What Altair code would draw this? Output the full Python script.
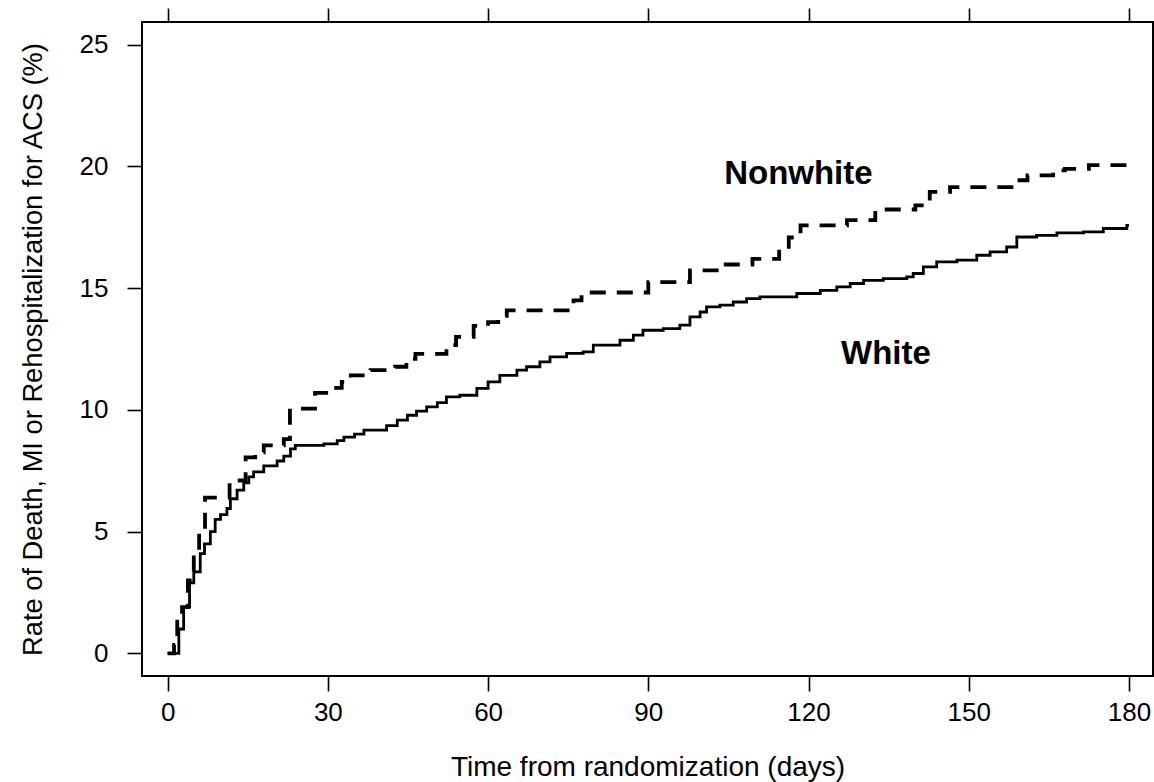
import altair as alt
import pandas as pd

# ---- data ----
white_day = [0, 2.1, 3.0, 4.1, 4.9, 6.1, 6.9, 8.0, 8.9, 9.9, 11.1, 11.75, 13.0, 14.25,
             15.2, 16.1, 18.0, 20.5, 21.75, 23.0, 23.9, 29.25, 31.75, 33, 35, 36.75,
             41, 43, 44.9, 46.6, 48.5, 50.5, 52.2, 54.7, 57.9, 60, 62.2, 65.4, 67.2, 69.7,
             71.6, 74.7, 77.8, 79.7, 84.7, 87.2, 89, 92.8, 95.9, 97.8, 99.7, 100.9,
             103.4, 105.9, 108.4, 110.9, 117.8, 122.2, 125.3, 127.8, 130.3, 134,
             138.4, 139.6, 141.5, 144, 147.8, 151.5, 154, 157.1, 159, 162.7, 166.5,
             171.5, 175.2, 179.6, 180]
white_rate = [0, 1.0, 1.9, 2.9, 3.35, 4.1, 4.5, 5.0, 5.5, 5.7, 5.95, 6.35, 6.7, 7.0,
              7.25, 7.45, 7.7, 7.9, 8.1, 8.4, 8.54, 8.6, 8.74, 8.88, 9.0, 9.17,
              9.35, 9.58, 9.78, 9.95, 10.12, 10.3, 10.53, 10.6, 10.88, 11.15, 11.42, 11.63, 11.77, 11.97,
              12.18, 12.32, 12.38, 12.66, 12.86, 13.07, 13.27, 13.34, 13.48, 13.82, 14.02, 14.23,
              14.3, 14.43, 14.57, 14.64, 14.78, 14.91, 15.05, 15.19, 15.32, 15.39,
              15.46, 15.6, 15.87, 16.08, 16.15, 16.35, 16.49, 16.69, 17.1, 17.17, 17.27,
              17.31, 17.45, 17.58, 17.58]

nonwhite_day = [0, 1.2, 1.8, 2.7, 3.8, 4.9, 5.9, 7.0, 11.6, 14.6, 16.4, 18.0, 21.75,
                22.9, 27.6, 30.5, 32.6, 34.3, 38.0, 42.6, 44.7, 46.4, 52.2, 54.0, 57.3, 60,
                61.9, 63.5, 76, 77.5, 90, 97.8, 103.5, 109.5, 114.5, 116.3, 118.5, 127.2,
                132.5, 140, 142.7, 146.5, 158, 161, 165.8, 168, 172.5, 180]
nonwhite_rate = [0, 0.35, 1.3, 1.9, 3.0, 4.2, 5.1, 6.4, 7.1, 8.05, 8.26, 8.54, 8.8,
                 10.05, 10.7, 10.9, 11.15, 11.42, 11.63, 11.77, 12.1, 12.3, 12.66, 13.0, 13.45, 13.6,
                 13.86, 14.09, 14.5, 14.82, 15.25, 15.73, 15.97, 16.2, 16.7, 17.08, 17.58, 17.79,
                 18.23, 18.4, 18.95, 19.15, 19.43, 19.63, 19.84, 19.9, 20.05, 20.05]

x_ticks = [0, 30, 60, 90, 120, 150, 180]
y_ticks = [0, 5, 10, 15, 20, 25]

label_text = ["Nonwhite", "White"]
label_day = [118.1, 134.5]
label_rate = [19.29, 11.9]

FONT = "Liberation Sans, Arial, Helvetica, sans-serif"

white_df = pd.DataFrame({"day": white_day, "rate": white_rate})
nonwhite_df = pd.DataFrame({"day": nonwhite_day, "rate": nonwhite_rate})
label_df = pd.DataFrame({"text": label_text, "day": label_day, "rate": label_rate})

xscale = alt.Scale(domain=[-4.8, 184.5], nice=False, zero=False)
yscale = alt.Scale(domain=[-0.93, 25.93], nice=False, zero=False)

x_bottom = alt.Axis(values=x_ticks, orient="bottom", domain=False, grid=False,
                    tickSize=15, tickWidth=1.6, tickColor="black",
                    labelFont=FONT, labelFontSize=26, labelColor="black",
                    labelPadding=8, labelFlush=False,
                    title="Time from randomization (days)", titleFont=FONT,
                    titleFontSize=28, titleFontWeight="normal", titleColor="black",
                    titleBaseline="alphabetic", titleY=99)
x_top = alt.Axis(values=x_ticks, orient="top", domain=False, grid=False,
                 tickSize=14, tickWidth=1.6, tickColor="black",
                 labels=False, title=None)
y_left = alt.Axis(values=y_ticks, orient="left", domain=False, grid=False,
                  tickSize=15, tickWidth=1.6, tickColor="black",
                  labelFont=FONT, labelFontSize=26, labelColor="black",
                  labelPadding=19, labelFlush=False,
                  title="Rate of Death, MI or Rehospitalization for ACS (%)",
                  titleFont=FONT, titleFontSize=27.3, titleFontWeight="normal",
                  titleColor="black", titleBaseline="alphabetic", titleX=-101)

white_line = alt.Chart(white_df).mark_line(
    interpolate="step-after", color="black", strokeWidth=2.8
).encode(
    x=alt.X("day:Q", scale=xscale, axis=x_bottom),
    y=alt.Y("rate:Q", scale=yscale, axis=y_left),
)

nonwhite_line = alt.Chart(nonwhite_df).mark_line(
    interpolate="step-after", color="black", strokeWidth=3.8,
    strokeDash=[16, 11], strokeCap="butt"
).encode(
    x=alt.X("day:Q", scale=xscale, axis=None),
    y=alt.Y("rate:Q", scale=yscale, axis=y_left),
)

labels = alt.Chart(label_df).mark_text(
    font=FONT, fontSize=33, fontWeight="bold", color="black",
    align="center", baseline="alphabetic"
).encode(
    x=alt.X("day:Q", scale=xscale, axis=x_top),
    y=alt.Y("rate:Q", scale=yscale, axis=y_left),
    text="text:N",
)

chart = alt.layer(white_line, nonwhite_line, labels).resolve_axis(
    x="independent", y="shared"
).properties(
    width=1011, height=654,
    autosize=alt.AutoSizeParams(type="none"),
    padding={"left": 142, "top": 22, "right": 1, "bottom": 106},
    background="white",
).configure_view(
    stroke="black", strokeWidth=2
)

chart.save("out.html", embed_options={"renderer": "svg", "actions": False})
